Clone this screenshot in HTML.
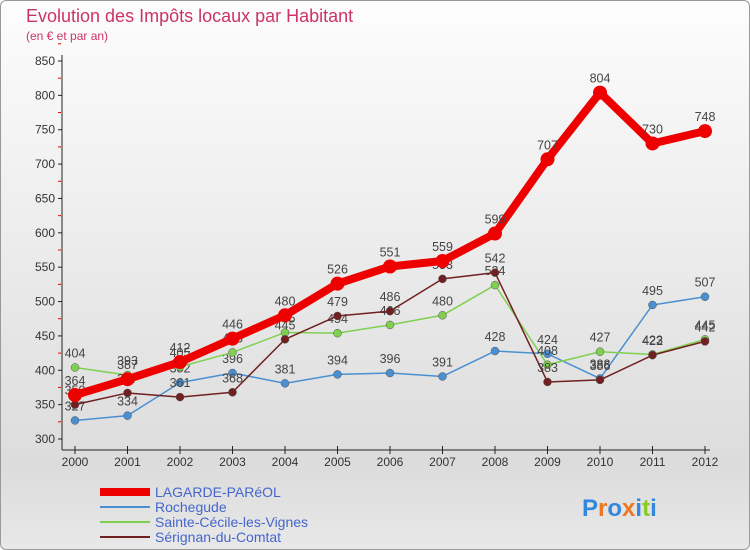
<!DOCTYPE html>
<html><head><meta charset="utf-8"><style>
body{margin:0;width:750px;height:550px;overflow:hidden;font-family:"Liberation Sans",sans-serif}
#wrap{position:absolute;left:0;top:0;width:748px;height:548px;border:1px solid #999;border-radius:6px;background:linear-gradient(#fdfdfd,#dcdcdc 85%,#e8e8e8)}
</style></head><body>
<div id="wrap">
<svg id="c" width="750" height="550" style="position:absolute;left:-1px;top:-1px"></svg>
</div>
<script>
const years=[2000,2001,2002,2003,2004,2005,2006,2007,2008,2009,2010,2011,2012];
const yTicks=[300,350,400,450,500,550,600,650,700,750,800,850];
const lagarde=[364,387,412,446,480,526,551,559,599,707,804,730,748];
const rochegude=[327,334,382,396,381,394,396,391,428,424,388,495,507];
const sainteCecile=[404,393,405,426,455,454,466,480,524,408,427,423,445];
const serignan=[350,367,361,368,445,479,486,533,542,383,386,422,442];
const NS='http://www.w3.org/2000/svg';
const svg=document.getElementById('c');
const x=i=>75+i*(630/(years.length-1));
const y=v=>439-(v-300)*(378/550);
function el(t,a,p){const e=document.createElementNS(NS,t);for(const k in a)e.setAttribute(k,a[k]);(p||svg).appendChild(e);return e;}
function tx(s,a){const e=el('text',a);e.textContent=s;return e;}
const t1=tx('Evolution des Impôts locaux par Habitant',{x:26,y:22,'font-size':18,fill:'#cc3366'});

const t2=tx('(en € et par an)',{x:26,y:40,'font-size':12,fill:'#cc3366'});

const ax=el('g',{});
el('line',{x1:62,y1:55,x2:62,y2:450,stroke:'#222'},ax);
el('line',{x1:62,y1:450,x2:710,y2:450,stroke:'#222'},ax);
yTicks.forEach(v=>{
 el('line',{x1:58,x2:62,y1:y(v),y2:y(v),stroke:'#222'},ax);
 el('line',{x1:58,x2:61,y1:y(v+25),y2:y(v+25),stroke:'#e00'},ax);
 const l=tx(v,{x:55,y:y(v)+4,'font-size':12,fill:'#333','text-anchor':'end'});
 
});
years.forEach((yr,i)=>{
 el('line',{x1:x(i),x2:x(i),y1:446,y2:454,stroke:'#222'},ax);
 const l=tx(yr,{x:x(i),y:466,'font-size':12,fill:'#333','text-anchor':'middle'});
 
});
const series=[
 {n:'rochegude',d:rochegude,c:'#4a90d0',w:1.5,r:4,lab:'Rochegude'},
 {n:'sainte-cecile',d:sainteCecile,c:'#80d050',w:1.5,r:4,lab:'Sainte-Cécile-les-Vignes'},
 {n:'serignan',d:serignan,c:'#702020',w:1.5,r:4,lab:'Sérignan-du-Comtat'},
 {n:'lagarde',d:lagarde,c:'#ee0000',w:8,r:7,lab:'LAGARDE-PARéOL'}
];
series.forEach(s=>{
 const g=el('g',{});
 el('polyline',{points:s.d.map((v,i)=>x(i)+','+y(v)).join(' '),fill:'none',stroke:s.c,'stroke-width':s.w,'stroke-linejoin':'round'},g);
 s.d.forEach((v,i)=>{
  const p=el('circle',{cx:x(i),cy:y(v),r:s.r,fill:s.c,stroke:s.w>2?'none':'#555','stroke-width':0.5},g);
  
  const l=el('text',{x:x(i),y:y(v)-10,'font-size':12.5,fill:'#444','text-anchor':'middle'},g);l.textContent=v;
  
 });
});
const leg=[series[3],series[0],series[1],series[2]];
leg.forEach((s,i)=>{
 const g=el('g',{});
 const yy=492+i*15;
 el('line',{x1:100,x2:150,y1:yy,y2:yy,stroke:s.c,'stroke-width':s.w>2?8:2},g);
 const t=el('text',{x:155,y:yy+5,'font-size':14,fill:'#4466cc'},g);t.textContent=s.lab;
});
const lg=el('text',{x:582,y:516,'font-size':24,'font-weight':'bold'});


const cols=['#3388dd','#ee7722','#3388dd','#ee7722','#3388dd','#88cc22','#3388dd'];
'Proxiti'.split('').forEach((ch,i)=>{const t=el('tspan',{fill:cols[i]},lg);t.textContent=ch;});
</script>
</body></html>
